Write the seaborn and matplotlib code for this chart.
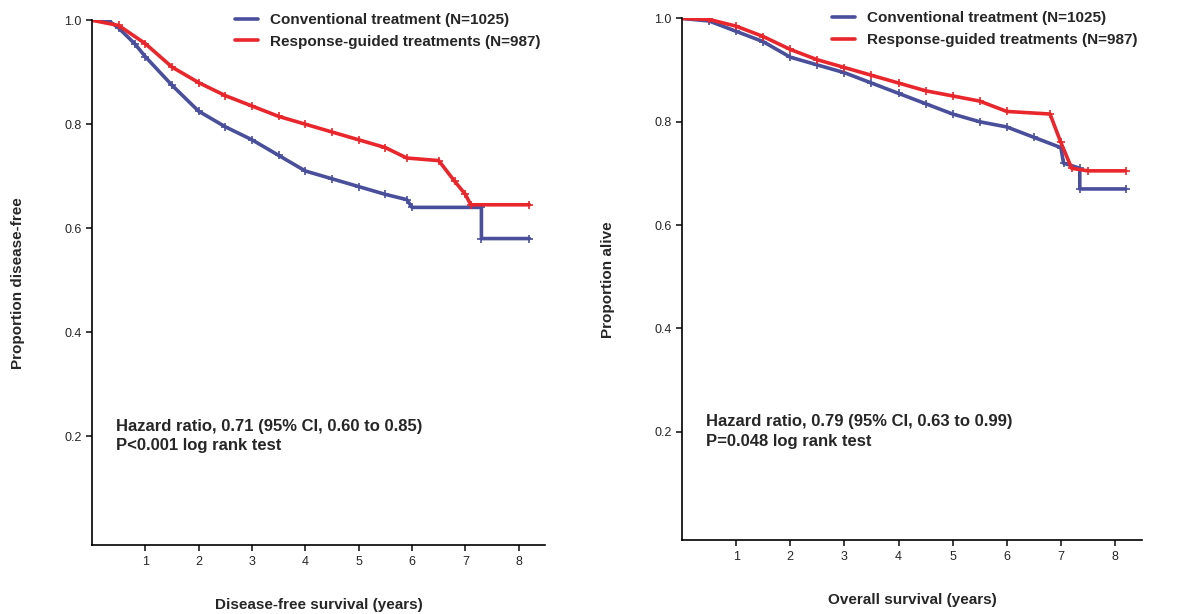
import matplotlib
matplotlib.use("Agg")
import matplotlib.pyplot as plt
import seaborn as sns
import pandas as pd

# Disease-free survival (left)
dfs_conv_t = [0, 0.3, 0.5, 0.8, 1, 1.5, 2, 2.5, 3, 3.5, 4, 4.5, 5, 5.5, 5.9, 6.0, 7.3, 7.3, 8.2]
dfs_conv_p = [1, 1, 0.985, 0.955, 0.93, 0.875, 0.825, 0.795, 0.77, 0.74, 0.71, 0.695, 0.68, 0.665, 0.655, 0.64, 0.64, 0.58, 0.58]
dfs_resp_t = [0, 0.5, 1, 1.5, 2, 2.5, 3, 3.5, 4, 4.5, 5, 5.5, 5.9, 6.5, 6.8, 7, 7.1, 8.2]
dfs_resp_p = [1, 0.99, 0.955, 0.91, 0.88, 0.855, 0.835, 0.815, 0.80, 0.785, 0.77, 0.755, 0.735, 0.73, 0.69, 0.665, 0.645, 0.645]

# Overall survival (right)
os_conv_t = [0, 0.5, 1, 1.5, 2, 2.5, 3, 3.5, 4, 4.5, 5, 5.5, 6, 6.5, 7, 7.05, 7.35, 7.35, 8.2]
os_conv_p = [1, 0.995, 0.975, 0.955, 0.925, 0.91, 0.895, 0.875, 0.855, 0.835, 0.815, 0.80, 0.79, 0.77, 0.75, 0.72, 0.71, 0.67, 0.67]
os_resp_t = [0, 0.5, 1, 1.5, 2, 2.5, 3, 3.5, 4, 4.5, 5, 5.5, 6, 6.8, 7, 7.2, 7.5, 8.2]
os_resp_p = [1, 0.998, 0.985, 0.965, 0.94, 0.92, 0.905, 0.89, 0.875, 0.86, 0.85, 0.84, 0.82, 0.815, 0.76, 0.71, 0.705, 0.705]

labels = ["Conventional treatment (N=1025)", "Response-guided treatments (N=987)"]
colors = ["#4a4f9c", "#e8262b"]

sns.set_theme(style="white")
plt.rcParams['font.family'] = ['Liberation Sans', 'DejaVu Sans']

fig = plt.figure(figsize=(11.87, 6.14), dpi=100)
ax1 = fig.add_axes([0.0775, 0.112, 0.382, 0.855])
ax2 = fig.add_axes([0.5746, 0.12, 0.3875, 0.85])

panels = [
    (ax1, [(dfs_conv_t, dfs_conv_p), (dfs_resp_t, dfs_resp_p)], "Proportion disease-free",
     "Disease-free survival (years)", "Hazard ratio, 0.71 (95% CI, 0.60 to 0.85)\nP<0.001 log rank test"),
    (ax2, [(os_conv_t, os_conv_p), (os_resp_t, os_resp_p)], "Proportion alive",
     "Overall survival (years)", "Hazard ratio, 0.79 (95% CI, 0.63 to 0.99)\nP=0.048 log rank test"),
]

for ax, series, ylab, xlab, note in panels:
    for (t, p), lab, c in zip(series, labels, colors):
        df = pd.DataFrame({"t": t, "p": p})
        sns.lineplot(data=df, x="t", y="p", ax=ax, sort=False, estimator=None,
                     color=c, lw=2.6, label=lab)
        marks = df.iloc[1:]
        ax.plot(marks["t"], marks["p"], ls="none", marker="+", ms=6, mew=1.2, color=c)
    ax.set_xlim(0, 8.5)
    ax.set_ylim(-0.01, 1.0)
    ax.set_xticks(range(1, 9))
    ax.set_yticks([0.2, 0.4, 0.6, 0.8, 1.0])
    ax.set_yticklabels(["0.2", "0.4", "0.6", "0.8", "1.0"])
    ax.tick_params(axis="both", labelsize=9, length=4, direction="out", left=True, bottom=True)
    for s in ["top", "right"]:
        ax.spines[s].set_visible(False)
    for s in ["left", "bottom"]:
        ax.spines[s].set_color("black")
        ax.spines[s].set_linewidth(1.2)
    ax.set_ylabel(ylab, fontsize=11, fontweight="bold", labelpad=28)
    ax.set_xlabel(xlab, fontsize=11, labelpad=22, fontweight="semibold")
    ax.text(0.45, 0.2, note, fontsize=12, va="center", linespacing=1.4, fontweight="semibold")
    leg = ax.legend(loc="upper right", bbox_to_anchor=(1.02, 1.04), frameon=False, fontsize=11,
                    handlelength=1.5)
    for txt in leg.get_texts():
        txt.set_fontweight("semibold")

fig.savefig("out.png", dpi=100)
